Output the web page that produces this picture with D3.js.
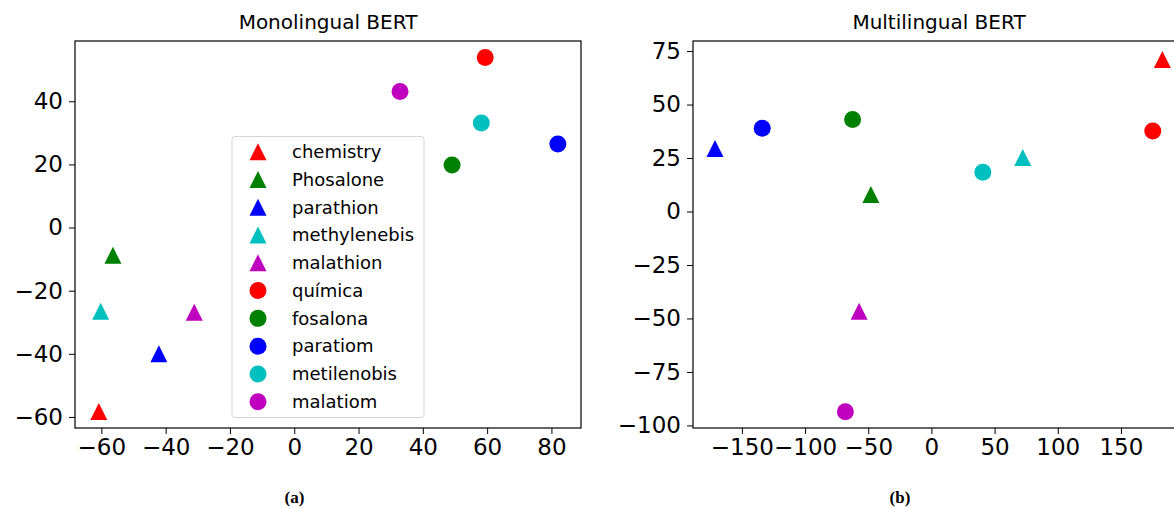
<!DOCTYPE html>
<html>
<head>
<meta charset="utf-8">
<script src="https://cdn.jsdelivr.net/npm/d3@7"></script>
<style>
  body { margin: 0; background: #fff; }
  text { font-family: "DejaVu Sans", sans-serif; fill: #000; }
</style>
</head>
<body>
<div id="my_dataviz"></div>
<script>
// words plotted in both panels (first five english, last five portuguese)
var words = ["chemistry", "Phosalone", "parathion", "methylenebis", "malathion",
             "química", "fosalona", "paratiom", "metilenobis", "malatiom"]
var language = ["en", "en", "en", "en", "en", "pt", "pt", "pt", "pt", "pt"]
var group = ["chem", "phos", "para", "meth", "mala", "chem", "phos", "para", "meth", "mala"]

// monolingual BERT coordinates
var monoX = [-60.8, -56.4, -42.1, -60.2, -31.1, 59.4, 49.1, 82.0, 58.2, 32.9]
var monoY = [-58.3, -8.8, -40.0, -26.5, -26.8, 53.9, 19.8, 26.5, 33.1, 43.1]

// multilingual BERT coordinates
var multiX = [182.8, -47.9, -171.3, 72.3, -57.2, 175.2, -62.4, -133.9, 40.7, -68.1]
var multiY = [71.1, 8.0, 29.5, 25.3, -46.6, 37.6, 43.0, 38.9, 18.4, -93.6]

// ticks
var monoXTicks = [-60, -40, -20, 0, 20, 40, 60, 80]
var monoYTicks = [-60, -40, -20, 0, 20, 40]
var multiXTicks = [-150, -100, -50, 0, 50, 100, 150]
var multiYTicks = [-100, -75, -50, -25, 0, 25, 50, 75]

var width = 1174,
    height = 509

var svg = d3.select("#my_dataviz")
  .append("svg")
    .attr("width", width)
    .attr("height", height)

var color = d3.scaleOrdinal()
  .domain(["chem", "phos", "para", "meth", "mala"])
  .range(["#ff0000", "#008000", "#0000ff", "#00bfbf", "#bf00bf"])

// matplotlib style '^' marker: width == height
var triangleUp = {
  draw: function(ctx, size) {
    var h = Math.sqrt(size) / 2
    ctx.moveTo(0, -h)
    ctx.lineTo(h, h)
    ctx.lineTo(-h, h)
    ctx.closePath()
  }
}
var triPath = d3.symbol().type(triangleUp).size(17 * 17)
var circPath = d3.symbol().type(d3.symbolCircle).size(Math.PI * 8.5 * 8.5)
function marker(i) { return language[i] === "en" ? triPath() : circPath() }

var fmt = function(d) { return d3.format("d")(d).replace("-", "\u2212") }

function panel(opts) {
  var x = d3.scaleLinear().domain(opts.xDomain).range([opts.left, opts.right])
  var y = d3.scaleLinear().domain(opts.yDomain).range([428, 41])

  var g = svg.append("g")

  // points
  g.selectAll("path.pt")
    .data(d3.range(words.length))
    .enter()
    .append("path")
      .attr("class", "pt")
      .attr("d", marker)
      .attr("transform", function(i) { return "translate(" + x(opts.xs[i]) + "," + y(opts.ys[i]) + ")" })
      .attr("fill", function(i) { return color(group[i]) })

  // axes
  var xAxis = g.append("g")
    .attr("transform", "translate(0,428)")
    .call(d3.axisBottom(x).tickValues(opts.xTicks).tickFormat(fmt).tickSize(6).tickSizeOuter(0).tickPadding(5))
  var yAxis = g.append("g")
    .attr("transform", "translate(" + opts.left + ",0)")
    .call(d3.axisLeft(y).tickValues(opts.yTicks).tickFormat(fmt).tickSize(6).tickSizeOuter(0).tickPadding(6))
  ;[xAxis, yAxis].forEach(function(a) {
    a.selectAll("text").style("font-size", "23px").style("font-family", "DejaVu Sans")
    a.selectAll("line").attr("stroke", "#000").attr("stroke-width", 1)
    a.select(".domain").remove()
  })

  // frame
  g.append("rect")
    .attr("x", opts.left)
    .attr("y", 41)
    .attr("width", opts.right - opts.left)
    .attr("height", 387)
    .attr("fill", "none")
    .attr("stroke", "#000")
    .attr("stroke-width", 1.2)

  g.append("text")
    .attr("x", (opts.left + opts.right) / 2)
    .attr("y", 29)
    .attr("text-anchor", "middle")
    .style("font-size", "20px")
    .text(opts.title)

  g.append("text")
    .attr("x", opts.captionX)
    .attr("y", 503)
    .attr("text-anchor", "middle")
    .style("font-family", "Liberation Serif")
    .style("font-weight", "bold")
    .style("font-size", "17px")
    .text(opts.caption)

  return { x: x, y: y }
}

panel({ left: 75, right: 581, xDomain: [-68.2, 89.2], yDomain: [-63.5, 59.1],
        xs: monoX, ys: monoY, xTicks: monoXTicks, yTicks: monoYTicks,
        title: "Monolingual BERT", caption: "(a)", captionX: 294.5 })

panel({ left: 693, right: 1185, xDomain: [-188.7, 200.7], yDomain: [-101.2, 79.7],
        xs: multiX, ys: multiY, xTicks: multiXTicks, yTicks: multiYTicks,
        title: "Multilingual BERT", caption: "(b)", captionX: 900 })

// legend (in left panel)
var legend = svg.append("g")
legend.append("rect")
  .attr("x", 232)
  .attr("y", 136.5)
  .attr("width", 192)
  .attr("height", 281)
  .attr("rx", 3)
  .attr("fill", "#fff")
  .attr("fill-opacity", 0.8)
  .attr("stroke", "#d5d5d5")
  .attr("stroke-width", 1)

var rowY = d3.scaleLinear().domain([0, words.length - 1]).range([151.7, 401.7])
var rows = legend.selectAll("g.row")
  .data(d3.range(words.length))
  .enter()
  .append("g")
    .attr("class", "row")
    .attr("transform", function(i) { return "translate(258," + rowY(i) + ")" })
rows.append("path")
  .attr("d", marker)
  .attr("fill", function(i) { return color(group[i]) })
rows.append("text")
  .attr("x", 34)
  .attr("dy", "0.35em")
  .style("font-size", "18px")
  .text(function(i) { return words[i] })
</script>
</body>
</html>
